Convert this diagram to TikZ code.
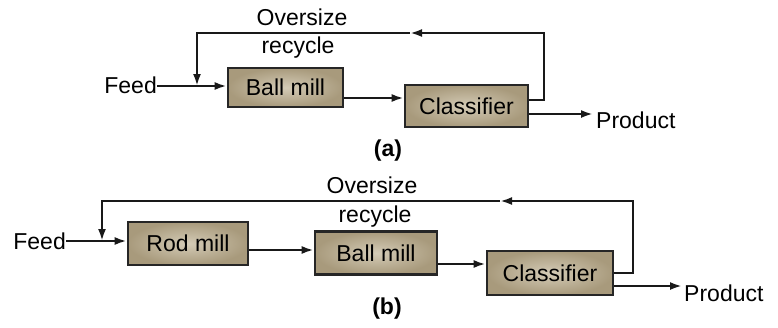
\documentclass[tikz,border=0pt]{standalone}
\usepackage{fontspec}
\setmainfont{Liberation Sans}
\usetikzlibrary{arrows.meta}
\definecolor{boxin}{RGB}{212,203,182}
\definecolor{boxout}{RGB}{168,154,124}
\tikzset{
  unit/.style={draw=black!85, line width=2.6pt, inner color=boxin, outer color=boxout,
    inner sep=0pt, font=\fontsize{23}{27}\selectfont},
  lbl/.style={inner sep=0pt, font=\fontsize{23}{27}\selectfont},
  figcap/.style={inner sep=0pt, font=\fontsize{23}{27}\selectfont\bfseries},
  conn/.style={line width=2.3pt, draw=black!90, -{Latex[length=12pt,width=8pt]}}
}
\begin{document}
\begin{tikzpicture}[x=1pt,y=-1pt]
\useasboundingbox (0,0) rectangle (778,327);
% ---------- (a) ----------
\node[lbl, anchor=east] (feedA) at (157,85) {Feed};
\node[unit, minimum width=115pt, minimum height=39pt] (ballA) at (285.5,87.5) {Ball mill};
\node[unit, minimum width=123pt, minimum height=42pt] (clsA) at (466.5,106) {Classifier};
\node[lbl, anchor=west] (prodA) at (596,120) {Product};
\node[lbl] (overA) at (302,17) {Oversize};
\node[lbl] (recA) at (298,48) {recycle};
\node[figcap] (capA) at (388,151) {(a)};
\coordinate (topRa) at (544,33);
\coordinate (arrA) at (410,33);
\coordinate (joinA) at (197,86);
\draw[conn] (feedA.east |- joinA) -- (joinA -| ballA.west);
\draw[conn] (ballA.east |- 0,98) -- (clsA.west |- 0,98);
\draw[conn] (clsA.east |- 0,114) -- (593,114);
\draw[conn] (clsA.east |- 0,100) -| (topRa) -- (arrA);
\draw[conn] (arrA) -| (joinA);
% ---------- (b) ----------
\node[lbl, anchor=east] (feedB) at (66,241) {Feed};
\node[unit, minimum width=120pt, minimum height=43pt] (rodB) at (188,243.5) {Rod mill};
\node[unit, minimum width=122pt, minimum height=43pt] (ballB) at (376,253) {Ball mill};
\node[unit, minimum width=126pt, minimum height=44pt] (clsB) at (550,273) {Classifier};
\node[lbl, anchor=west] (prodB) at (684,293) {Product};
\node[lbl] (overB) at (372,185) {Oversize};
\node[lbl] (recB) at (375,217) {recycle};
\node[figcap] (capB) at (387,309) {(b)};
\coordinate (topRb) at (633,201);
\coordinate (arrB) at (500,201);
\coordinate (joinB) at (102,241);
\draw[conn] (feedB.east |- joinB) -- (joinB -| rodB.west);
\draw[conn] (rodB.east |- 0,250) -- (ballB.west |- 0,250);
\draw[conn] (ballB.east |- 0,264) -- (clsB.west |- 0,264);
\draw[conn] (clsB.east |- 0,286) -- (682,286);
\draw[conn] (clsB.east |- 0,273) -| (topRb) -- (arrB);
\draw[conn] (arrB) -| (joinB);
\end{tikzpicture}
\end{document}
